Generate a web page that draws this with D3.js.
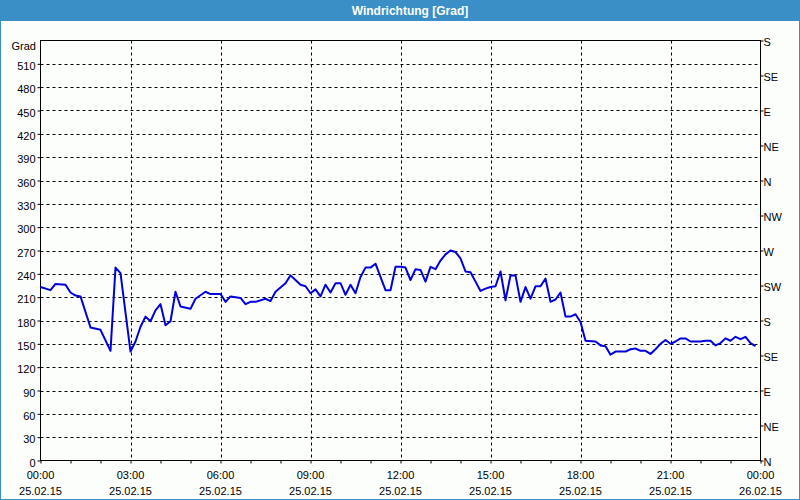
<!DOCTYPE html>
<html>
<head>
<meta charset="utf-8">
<script src="https://cdn.jsdelivr.net/npm/d3@7"></script>
<style>
html,body{margin:0;padding:0;background:#fcfefc;}
svg{display:block;}
</style>
</head>
<body>
<svg id="chart" width="800" height="500"></svg>
<script>
// Data: minutes since 25.02.15 00:00, wind direction in degrees
const minutes = [0,20,30,50,60,70,80,100,120,140,150,160,170,180,190,200,210,220,230,240,250,260,270,280,300,310,330,340,360,370,380,400,410,420,430,450,460,470,490,500,510,520,530,540,550,560,570,580,590,600,610,620,630,640,650,660,670,690,700,710,720,730,740,750,760,770,780,790,800,810,820,830,840,850,860,870,880,890,900,910,920,930,940,950,960,970,980,990,1000,1010,1020,1030,1040,1050,1060,1070,1080,1090,1110,1120,1130,1140,1150,1170,1180,1190,1200,1210,1220,1230,1240,1250,1260,1270,1280,1290,1300,1320,1330,1340,1350,1360,1370,1380,1390,1400,1410,1420,1430];
const degrees = [223,219,227,226,216,212,211,171,168,141,248,241,190,140,153,172,185,179,193,201,174,179,217,198,195,208,217,214,214,204,211,209,201,204,204,208,205,217,228,238,232,226,224,215,220,211,226,216,228,228,213,226,215,236,248,248,253,219,219,249,249,248,232,246,245,230,249,246,257,265,270,268,260,243,242,230,218,221,223,224,243,206,238,238,204,223,208,224,224,234,204,207,216,185,185,188,178,154,153,148,147,136,140,140,143,144,141,141,137,143,150,155,150,153,157,157,153,153,154,154,148,151,157,154,159,156,159,151,147];
const leftTicks = [0,30,60,90,120,150,180,210,240,270,300,330,360,390,420,450,480,510];
const rightTickValues = [0,45,90,135,180,225,270,315,360,405,450,495,540];
const rightTickLabels = ["N","NE","E","SE","S","SW","W","NW","N","NE","E","SE","S"];
const xTickHours = [0,3,6,9,12,15,18,21,24];
const title = "Windrichtung [Grad]";
const yUnit = "Grad";

const svg = d3.select("#chart");
const W = 800, H = 500;
const m = {left: 40.5, right: 760.5, top: 40.5, bottom: 460.5};
const start = new Date(2015, 1, 25, 0, 0);
const end = new Date(2015, 1, 26, 0, 0);

const x = d3.scaleTime().domain([start, end]).range([m.left, m.right]);
const y = d3.scaleLinear().domain([0, 540]).range([m.bottom, m.top]);

const font = "'Liberation Sans', Arial, sans-serif";

// background + border
svg.append("rect").attr("x",0).attr("y",0).attr("width",W).attr("height",H).attr("fill","#fcfefc");
svg.append("rect").attr("x",0.5).attr("y",0.5).attr("width",W-1).attr("height",H-1)
  .attr("fill","none").attr("stroke","#3b8fc7").attr("stroke-width",1);
// title bar
svg.append("rect").attr("x",0).attr("y",0).attr("width",W).attr("height",21).attr("fill","#3b8fc7");
svg.append("text").attr("x",410).attr("y",14.5).attr("text-anchor","middle")
  .attr("fill","#ffffff").attr("font-family",font).attr("font-weight","bold").attr("font-size","12px")
  .text(title);

// grid lines
const grid = svg.append("g");
leftTicks.filter(v => v > 0).forEach(v => {
  grid.append("line").attr("x1",m.left).attr("x2",m.right)
    .attr("y1",Math.round(y(v))+0.5).attr("y2",Math.round(y(v))+0.5)
    .attr("stroke","#000").attr("stroke-width",1).attr("stroke-dasharray","3,3");
});
xTickHours.filter(h => h > 0 && h < 24).forEach(h => {
  const t = d3.timeHour.offset(start, h);
  grid.append("line").attr("y1",m.top).attr("y2",m.bottom)
    .attr("x1",Math.round(x(t))+0.5).attr("x2",Math.round(x(t))+0.5)
    .attr("stroke","#000").attr("stroke-width",1).attr("stroke-dasharray","3,3");
});

// frame
svg.append("rect").attr("x",m.left).attr("y",m.top).attr("width",m.right-m.left).attr("height",m.bottom-m.top)
  .attr("fill","none").attr("stroke","#000").attr("stroke-width",1);

// left axis
const yAxisL = d3.axisLeft(y).tickValues(leftTicks).tickSize(3).tickSizeOuter(0).tickFormat(d3.format("d"));
const gL = svg.append("g").attr("transform",`translate(${m.left},0)`).call(yAxisL);
gL.select(".domain").remove();
gL.selectAll("text").attr("font-family",font).attr("font-size","11px").attr("fill","#000").attr("dy","0.5em").attr("x",-5);
svg.append("text").attr("x",36).attr("y",50).attr("text-anchor","end")
  .attr("font-family",font).attr("font-size","11px").attr("fill","#000").text(yUnit);

// right axis
const yAxisR = d3.axisRight(y).tickValues(rightTickValues).tickSize(3).tickSizeOuter(0)
  .tickFormat((d,i) => rightTickLabels[i]);
const gR = svg.append("g").attr("transform",`translate(${m.right},0)`).call(yAxisR);
gR.select(".domain").remove();
gR.selectAll("text").attr("font-family",font).attr("font-size","11px").attr("fill","#000").attr("dy","0.45em").attr("x",3);

// bottom axis (hourly minor ticks, labels every 3h)
const xAxis = d3.axisBottom(x).ticks(d3.timeHour.every(1)).tickSize(3).tickSizeOuter(0).tickFormat("");
const gB = svg.append("g").attr("transform",`translate(0,${m.bottom})`).call(xAxis);
gB.select(".domain").remove();
gB.selectAll("line").attr("stroke","#000");
const fmtT = d3.timeFormat("%H:%M"), fmtD = d3.timeFormat("%d.%m.%y");
xTickHours.forEach(h => {
  const t = d3.timeHour.offset(start, h);
  svg.append("text").attr("x",x(t)).attr("y",479).attr("text-anchor","middle")
    .attr("font-family",font).attr("font-size","11px").attr("fill","#000").text(fmtT(t));
  svg.append("text").attr("x",x(t)).attr("y",495).attr("text-anchor","middle")
    .attr("font-family",font).attr("font-size","11px").attr("fill","#000").text(fmtD(t));
});

// data line
const data = minutes.map((mn,i) => ({t: d3.timeMinute.offset(start, mn), v: degrees[i]}));
const line = d3.line().x(d => x(d.t)).y(d => y(d.v));
svg.append("path").datum(data).attr("d",line).attr("fill","none")
  .attr("stroke","#0000dd").attr("stroke-width",2).attr("stroke-linejoin","round");
</script>
</body>
</html>
